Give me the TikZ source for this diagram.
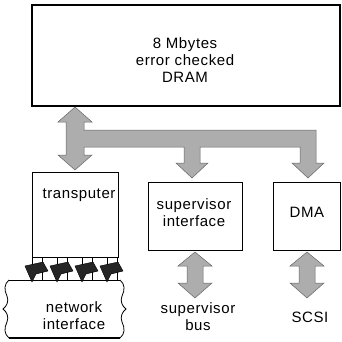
\documentclass[tikz,border=0pt]{standalone}
\usepackage{fontspec}
\setmainfont{Liberation Sans}[LetterSpace=4]
\usetikzlibrary{patterns}
\begin{document}
\begin{tikzpicture}[x=1pt,y=-1pt,
  box/.style={draw, line width=0.9pt},
  lbl/.style={font=\fontsize{15}{17}\selectfont, align=center, inner sep=0pt},
  fat/.style={fill=black!32, draw=black!60, line width=0.5pt},
  link/.style={fill=black!85, draw=black},
  wire/.style={line width=0.8pt}]
\useasboundingbox (0,0) rectangle (341,342);
% boxes
\draw[box, line width=1.1pt] (32,5) rectangle (340,106);
\node[lbl] (dram) at (185,60) {8 Mbytes\\error checked\\DRAM};
\draw[box] (32,172) rectangle (118,257);
\node[lbl] (trans) at (79,195) {transputer};
\draw[box] (148,182) rectangle (242,250);
\node[lbl] (sup) at (194,213) {supervisor\\interface};
\draw[box] (273,182) rectangle (340,250);
\node[lbl] (dma) at (307,212) {DMA};
% bus
\draw[fat] (75,107) -- (92,122) -- (84,122) -- (84,130) -- (316,130) -- (316,163)
  -- (324,163) -- (308,178) -- (292,163) -- (300,163) -- (300,147) -- (200,147)
  -- (200,163) -- (208,163) -- (192,178) -- (176,163) -- (184,163) -- (184,147)
  -- (84,147) -- (84,155) -- (92,155) -- (75,170) -- (58,155) -- (66,155)
  -- (66,122) -- (58,122) -- cycle;
% supervisor bus / SCSI arrows
\foreach \c in {195,307}{
  \draw[fat] (\c,252) -- (\c+17,266) -- (\c+8,266) -- (\c+8,283) -- (\c+17,283)
    -- (\c,298) -- (\c-17,283) -- (\c-8,283) -- (\c-8,266) -- (\c-17,266) -- cycle;
}
\node[lbl] (supbus) at (198,317) {supervisor\\bus};
\node[lbl] (scsi) at (310,317) {SCSI};
% network interface
\draw[line width=0.8pt] (9,280) -- (120,280);
\draw[line width=1.8pt] (9,338) -- (120,338);
\draw[line width=0.8pt] (9,280) .. controls (4,284) and (4,290) .. (7,296)
  .. controls (9,301) and (7,306) .. (3,309)
  .. controls (7,312) and (9,317) .. (7,322)
  .. controls (4,328) and (4,334) .. (9,338);
\draw[line width=0.8pt] (120,280) .. controls (125,284) and (125,290) .. (122,296)
  .. controls (120,301) and (122,306) .. (126,309)
  .. controls (122,312) and (120,317) .. (122,322)
  .. controls (125,328) and (125,334) .. (120,338);
\node[lbl] (net) at (74,316) {network\\interface};
% links
\foreach \c in {37,62,87,112}{
  \draw[wire] (\c-5,257) -- (\c-5,280);
  \draw[wire] (\c+5,257) -- (\c+5,280);
  \fill[link] (\c-12,266) -- (\c+6,262) -- (\c+11,271) -- (\c-1,274) -- (\c-5,282) -- (\c-9,273) -- cycle;
}
\end{tikzpicture}
\end{document}
